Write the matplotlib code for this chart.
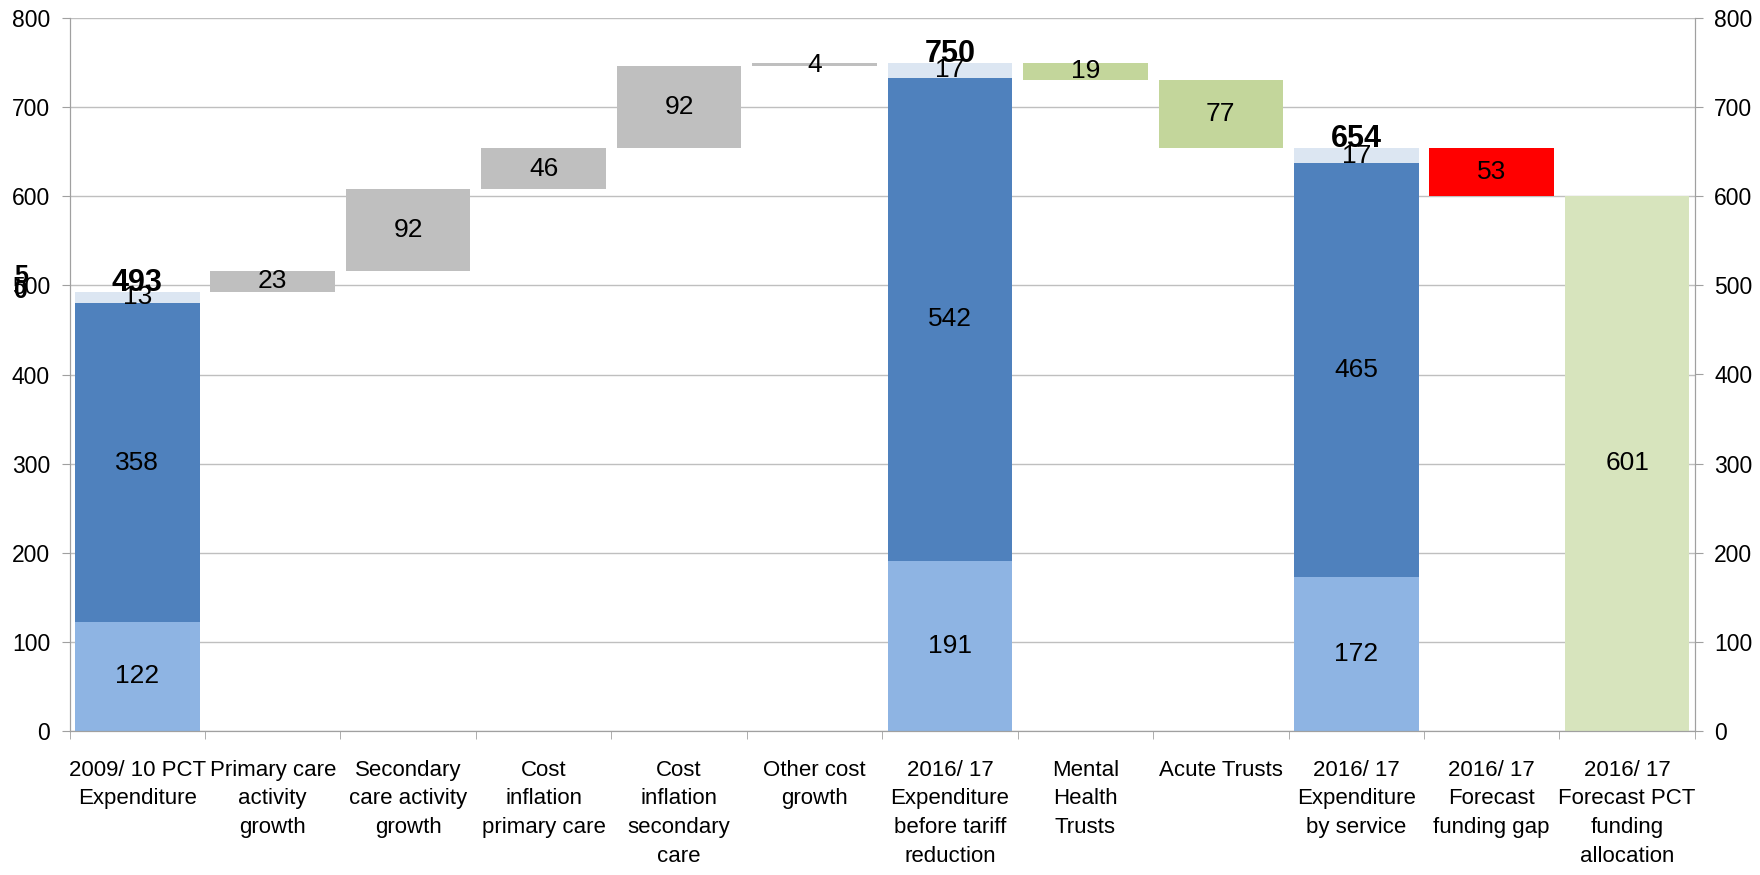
import matplotlib
matplotlib.use("Agg")
import matplotlib.pyplot as plt
import numpy as np

plt.rcParams["font.family"] = ["Liberation Sans Narrow", "Liberation Sans", "DejaVu Sans"]

categories = [
    "2009/ 10 PCT\nExpenditure",
    "Primary care\nactivity\ngrowth",
    "Secondary\ncare activity\ngrowth",
    "Cost\ninflation\nprimary care",
    "Cost\ninflation\nsecondary\ncare",
    "Other cost\ngrowth",
    "2016/ 17\nExpenditure\nbefore tariff\nreduction",
    "Mental\nHealth\nTrusts",
    "Acute Trusts",
    "2016/ 17\nExpenditure\nby service",
    "2016/ 17\nForecast\nfunding gap",
    "2016/ 17\nForecast PCT\nfunding\nallocation",
]

# stacked totals (None where the bar is a step)
lower = [122, None, None, None, None, None, 191, None, None, 172, None, None]
middle = [358, None, None, None, None, None, 542, None, None, 465, None, None]
upper = [13, None, None, None, None, None, 17, None, None, 17, None, None]
# step changes (None where the bar is a stacked total)
steps = [None, 23, 92, 46, 92, 4, None, -19, -77, None, -53, None]
final_value = 601

c_lower = "#8EB4E3"
c_mid = "#4F81BD"
c_upper = "#DCE6F2"
c_up = "#BFBFBF"
c_down = "#C3D69B"
c_gap = "#FF0000"
c_final = "#D7E4BD"

fig = plt.figure(figsize=(17.6, 8.75), dpi=100)
ax = fig.add_axes([0.0395, 0.165, 0.9235, 0.814])

w = 0.92
label_fs = 19
running = 0
for i in range(len(categories)):
    if lower[i] is not None:
        segs = [(lower[i], c_lower), (middle[i], c_mid), (upper[i], c_upper)]
        b = 0
        for v, c in segs:
            ax.bar(i, v, bottom=b, width=w, color=c, zorder=2)
            ax.text(i, b + v / 2, str(v), ha="center", va="center", fontsize=label_fs, zorder=3)
            b += v
        running = b
        ax.text(i, b + 1, str(b), ha="center", va="baseline", fontsize=22,
                fontweight="bold", zorder=4)
    elif steps[i] is not None:
        d = steps[i]
        if d > 0:
            bottom, color = running, c_up
        else:
            bottom, color = running + d, (c_gap if i == 10 else c_down)
        ax.bar(i, abs(d), bottom=bottom, width=w, color=color, zorder=2)
        ax.text(i, bottom + abs(d) / 2, str(abs(d)), ha="center", va="center",
                fontsize=label_fs, zorder=3)
        running += d
    else:
        ax.bar(i, final_value, width=w, color=c_final, zorder=2)
        ax.text(i, final_value / 2, str(final_value), ha="center", va="center",
                fontsize=label_fs, zorder=3)

# stray overlapping label at the left edge
ax.text(-0.86, 502, "5\n0", transform=ax.transData, ha="center", va="center",
        fontsize=18, fontweight="bold", linespacing=0.5, clip_on=False)

ax.set_xlim(-0.5, len(categories) - 0.5)
ax.set_ylim(0, 800)
ax.set_yticks(np.arange(0, 801, 100))
ax.yaxis.grid(True, color="#BFBFBF", linewidth=1, zorder=0)
ax.set_axisbelow(True)

ax.set_xticks(range(len(categories)))
ax.set_xticklabels(categories, fontsize=16, linespacing=1.48)
ax.set_xticks(np.arange(-0.5, len(categories), 1), minor=True)
ax.tick_params(axis="x", which="major", length=0, pad=21)
ax.tick_params(axis="x", which="minor", length=6, color="#A0A0A0", direction="out")
ax.tick_params(axis="y", labelsize=16.5, length=6, color="#A0A0A0", direction="out", pad=8)

for s in ["left", "right", "bottom"]:
    ax.spines[s].set_color("#A0A0A0")
ax.spines["top"].set_visible(False)

ax2 = ax.twinx()
ax2.set_ylim(0, 800)
ax2.set_yticks(np.arange(0, 801, 100))
ax2.tick_params(axis="y", labelsize=16.5, length=6, color="#A0A0A0", direction="out", pad=8)
for s in ["left", "right", "bottom"]:
    ax2.spines[s].set_color("#A0A0A0")
ax2.spines["top"].set_visible(False)

fig.savefig("out.png", dpi=100)
